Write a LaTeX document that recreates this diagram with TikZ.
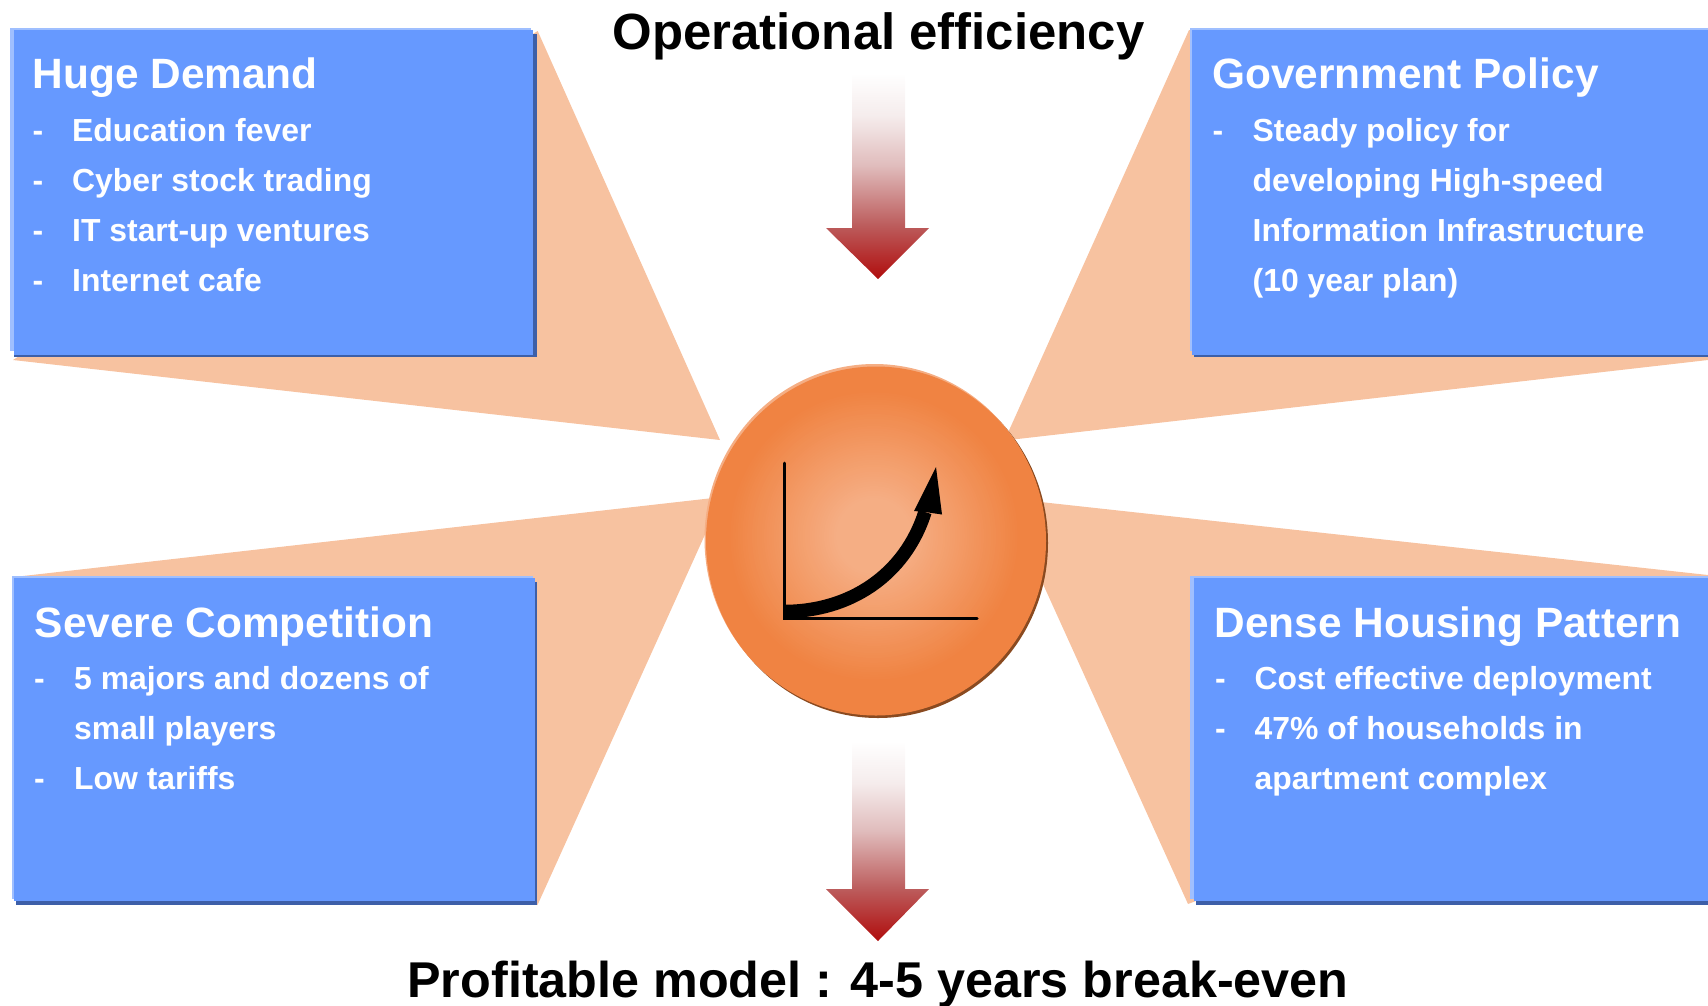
\documentclass[tikz,border=0pt]{standalone}
\usepackage{fontspec}
\setmainfont{Liberation Sans}[BoldFont={* Bold}]
\definecolor{peach}{HTML}{F7C2A0}
\definecolor{boxblue}{HTML}{6699FF}
\definecolor{boxlight}{HTML}{9FBFFF}
\definecolor{boxdark}{HTML}{3D5FA8}
\definecolor{arrowred}{HTML}{B00D0D}
\definecolor{arrowa}{HTML}{BC5C5C}
\definecolor{arrowb}{HTML}{E0BCBC}
\definecolor{arrowc}{HTML}{F5ECEC}
\definecolor{discin}{HTML}{F5AE84}
\definecolor{discout}{HTML}{F08342}
\definecolor{discdark}{HTML}{8A4A20}
\definecolor{disclight}{HTML}{F5AE84}
\pgfdeclareverticalshading{arrowshade}{100bp}{color(0bp)=(arrowred); color(25bp)=(arrowred); color(38bp)=(arrowa); color(52.5bp)=(arrowb); color(64.5bp)=(arrowc); color(75bp)=(white); color(100bp)=(white)}
\tikzset{
  ray/.style={fill=peach,draw=none},
  titletext/.style={anchor=base west,text=white,font=\fontsize{42.4}{42.4}\selectfont\bfseries,inner sep=0pt},
  bodytext/.style={anchor=base west,text=white,font=\fontsize{31.9}{31.9}\selectfont\bfseries,inner sep=0pt},
  headtext/.style={anchor=base,text=black,font=\fontsize{50.9}{50.9}\selectfont\bfseries,inner sep=0pt},
  redarrow/.style={shading=arrowshade,draw=none},
}
% #1 light left, #2 main left, #3 shadow left, #4 top, #5 right, #6 main bottom, #7 light bottom, #8 shadow bottom, #9 shadow right
\newcommand{\infobox}[9]{%
  \fill[boxdark] (#3,#4+4) rectangle (#9,#8);
  \fill[boxlight] (#1,#4-2) rectangle (#5-2,#7);
  \fill[boxblue] (#2,#4) rectangle (#5,#6);
}
\begin{document}
\begin{tikzpicture}[x=1pt,y=-1pt]
\useasboundingbox (0,0) rectangle (1708,1005);
% rays
\fill[ray] (537.7,31) -- (720,440) -- (13,360) -- cycle;
\fill[ray] (1189,30) -- (1004.5,440.5) -- (1708,360) -- (1708,30) -- cycle;
\fill[ray] (14,577) -- (722,497) -- (537.5,905) -- cycle;
\fill[ray] (1708,575) -- (1004,498) -- (1188,904) -- (1196,901) -- (1708,901) -- cycle;
% boxes
\infobox{10}{14}{14}{30}{533}{355}{351}{357}{537}
\infobox{1190}{1192}{1194}{30}{1712}{355}{351}{357}{1716}
\infobox{12.3}{14}{16}{578}{535}{901}{899}{905}{537}
\infobox{1190}{1194}{1196}{578}{1712}{901}{899}{905}{1716}
% box 1
\node[titletext] (t1) at (32.5,88.7) {Huge Demand};
\node[bodytext] (d11) at (32.5,141) {-};
\node[bodytext] (b11) at (72,141) {Education fever};
\node[bodytext] (d12) at (32.5,191) {-};
\node[bodytext] (b12) at (72,191) {Cyber stock trading};
\node[bodytext] (d13) at (32.5,241) {-};
\node[bodytext] (b13) at (72,241) {IT start-up ventures};
\node[bodytext] (d14) at (32.5,291) {-};
\node[bodytext] (b14) at (72,291) {Internet cafe};
% box 2
\node[titletext] (t2) at (1212,88.7) {Government Policy};
\node[bodytext] (d21) at (1212.5,141) {-};
\node[bodytext] (b21) at (1252.5,141) {Steady policy for};
\node[bodytext] (b22) at (1252.5,191) {developing High-speed};
\node[bodytext] (b23) at (1252.5,241) {Information Infrastructure};
\node[bodytext] (b24) at (1252.5,291) {(10 year plan)};
% box 3
\node[titletext] (t3) at (34.7,637) {Severe Competition};
\node[bodytext] (d31) at (34,689.5) {-};
\node[bodytext] (b31) at (74,689.5) {5 majors and dozens of};
\node[bodytext] (b32) at (74,739.5) {small players};
\node[bodytext] (d33) at (34,789.5) {-};
\node[bodytext] (b33) at (74,789.5) {Low tariffs};
% box 4
\node[titletext] (t4) at (1214.5,637) {Dense Housing Pattern};
\node[bodytext] (d41) at (1215,689.5) {-};
\node[bodytext] (b41) at (1254.5,689.5) {Cost effective deployment};
\node[bodytext] (d42) at (1215,739.5) {-};
\node[bodytext] (b42) at (1254.5,739.5) {47\% of households in};
\node[bodytext] (b43) at (1254.5,789.5) {apartment complex};
% headings
\node[headtext] (top) at (878.5,49.2) {Operational efficiency};
\node[headtext,font=\fontsize{50.3}{50.3}\selectfont\bfseries] (bottom) at (878,997) {Profitable model : 4-5 years break-even};
% block arrows
\shade[redarrow] (852,73) -- (905,73) -- (905,228) -- (929,228) -- (878,279) -- (826,228) -- (852,228) -- cycle;
\shade[redarrow] (852,741) -- (905,741) -- (905,889) -- (929,889) -- (878,941) -- (826,889) -- (852,889) -- cycle;
% disc
\fill[discdark] (878,543) ellipse [x radius=170,y radius=175];
\fill[disclight] (874.5,539) ellipse [x radius=170,y radius=175];
\fill[discout] (876,541) ellipse [x radius=170,y radius=174.5];
\foreach \s in {0,...,45}{
  \pgfmathsetmacro{\rr}{146-\s*2.4}
  \pgfmathsetmacro{\tt}{\s*100/45}
  \fill[discin!\tt!discout] (874,536) ellipse [x radius=\rr,y radius=\rr];
}
% chart
\draw[line width=3pt,line cap=round,line join=round] (784,463) -- (784,618) -- (977,618);
\fill[black] (782.5,606) rectangle (800,619.5);
\draw[line width=13.5pt] (784,611.5) .. controls (850,611.5) and (905,575) .. (925,512);
\fill[black] (936,467) -- (942,514.5) -- (925,512) -- (914,511) -- cycle;
\end{tikzpicture}
\end{document}
